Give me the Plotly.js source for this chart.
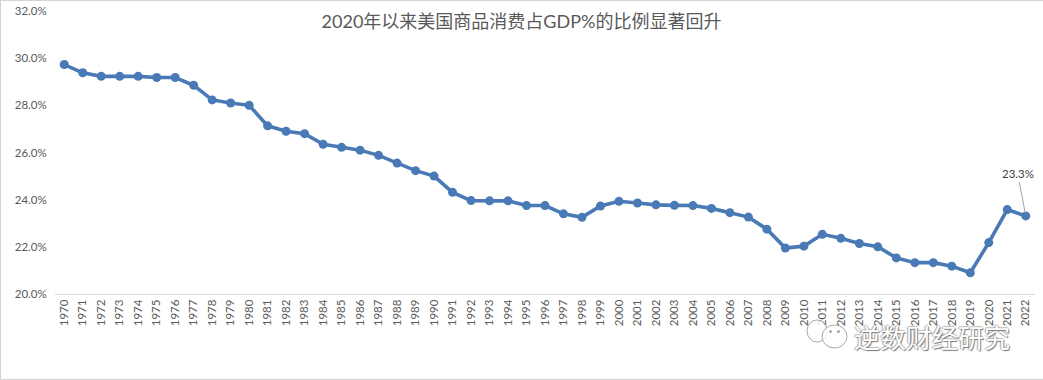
<!DOCTYPE html>
<html><head><meta charset="utf-8">
<script src="https://cdn.plot.ly/plotly-3.0.1.min.js"></script>
<style>html,body{margin:0;padding:0;background:#fff;overflow:hidden}
#frame{position:absolute;left:0;top:0;width:1043px;height:380px}</style></head>
<body><div id="frame"></div>
<script>
const years = ["1970","1971","1972","1973","1974","1975","1976","1977","1978","1979","1980","1981","1982","1983","1984","1985","1986","1987","1988","1989","1990","1991","1992","1993","1994","1995","1996","1997","1998","1999","2000","2001","2002","2003","2004","2005","2006","2007","2008","2009","2010","2011","2012","2013","2014","2015","2016","2017","2018","2019","2020","2021","2022"];
const share = [29.73,29.38,29.23,29.23,29.23,29.18,29.18,28.85,28.23,28.1,28.0,27.13,26.9,26.8,26.35,26.22,26.1,25.88,25.55,25.23,25.0,24.31,23.96,23.95,23.95,23.75,23.75,23.4,23.25,23.73,23.93,23.86,23.78,23.76,23.75,23.63,23.45,23.26,22.75,21.95,22.03,22.53,22.36,22.14,22.0,21.53,21.33,21.33,21.18,20.9,22.18,23.58,23.31];
const yTicks = [20,22,24,26,28,30,32];
const titleText = "2020年以来美国商品消费占GDP%的比例显著回升";
const watermark = "逆数财经研究";
const W = 1043, H = 380;
const border = "#D4D4D4";
const iconLine = "#A8A8A8";
const latin = "Lato,'Liberation Sans',sans-serif";
const pxShape = (type,x0,x1,y0,y1,yanchor,extra) => Object.assign({type:type,xref:"paper",yref:"paper",xsizemode:"pixel",ysizemode:"pixel",xanchor:0,yanchor:yanchor,x0:x0,x1:x1,y0:y0,y1:y1,line:{width:0},layer:"above"},extra);
const bubble = {line:{width:1,color:iconLine},fillcolor:"rgba(255,255,255,0.8)"};
const dot = {fillcolor:iconLine};
Plotly.newPlot("frame",[{
  type:"scatter",mode:"lines+markers",x:years,y:share,
  line:{color:"#4A7AB6",width:3.6},marker:{color:"#4A7AB6",size:9},hoverinfo:"skip"
}],{
  width:W,height:H,autosize:false,showlegend:false,
  paper_bgcolor:"#fff",plot_bgcolor:"#fff",
  margin:{l:55,r:8,t:11,b:86,pad:0},
  title:{text:titleText,x:0.5,xanchor:"center",xref:"container",y:1-22/H,yanchor:"middle",
    font:{family:"Lato,'Noto Sans CJK SC',sans-serif",size:18,color:"#595959"}},
  xaxis:{type:"category",categoryorder:"array",categoryarray:years,range:[-0.5,52.5],
    showgrid:false,zeroline:false,showline:true,linecolor:"#D9D9D9",linewidth:1,ticks:"",
    tickangle:-90,tickfont:{family:latin,size:11.5,color:"#595959"},
    tickmode:"array",tickvals:years,ticktext:years},
  yaxis:{range:[20,32],tickmode:"array",tickvals:yTicks,ticktext:yTicks.map(v=>v.toFixed(1)+"%"),
    showgrid:false,zeroline:false,showline:false,ticks:"outside",ticklen:5,tickcolor:"rgba(0,0,0,0)",
    tickfont:{family:latin,size:11.5,color:"#595959"}},
  shapes:[
    pxShape("rect",-55,-54,-86,294,0,{fillcolor:border}),
    pxShape("rect",-55,988,-86,-85,0,{fillcolor:border}),
    pxShape("rect",-55,988,10,11,1,{fillcolor:border}),
    pxShape("circle",752,772,-48,-26,0,bubble),
    pxShape("circle",767,792,-54,-31,0,bubble),
    pxShape("circle",774,777,-39,-36,0,dot),
    pxShape("circle",782,785,-39,-36,0,dot)
  ],
  annotations:[
    {x:52,y:23.31,xref:"x",yref:"y",text:"23.3%",showarrow:true,arrowhead:0,arrowwidth:1,arrowcolor:"#A6A6A6",
     ax:-8,ay:-42,standoff:3,font:{family:latin,size:11.5,color:"#404040"}},
    {xref:"paper",yref:"paper",x:(932-55)/(W-63),y:(294-336)/283,xanchor:"center",yanchor:"middle",showarrow:false,text:watermark,
     font:{family:"'Noto Sans CJK SC',sans-serif",size:26,color:"#FFFFFF",
       shadow:"1px 1px 1px #777, -1px 0 1px #aaa, 0 -1px 1px #bbb"}}
  ]
},{staticPlot:true,displayModeBar:false});
</script></body></html>
